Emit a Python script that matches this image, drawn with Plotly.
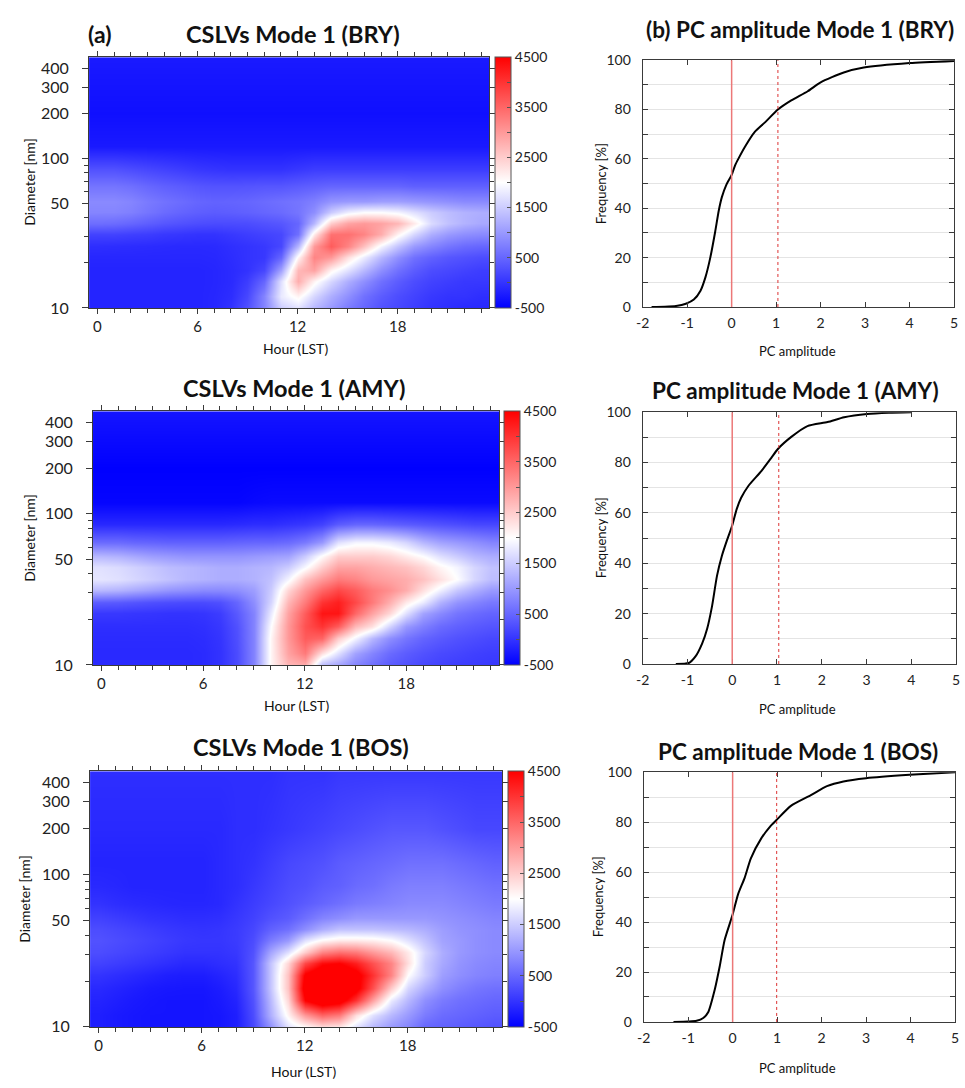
import plotly.graph_objects as go

W, H = 965, 1088
FONT = "Lato, Carlito, Calibri, 'Open Sans', sans-serif"

# ---------------- data ----------------
hours = list(range(24))
diameters = [10, 12, 15, 18, 22, 26, 31, 37, 44, 52, 65, 85, 120, 200, 480]

# rows = diameters (bottom -> top), columns = hours 0..23
z_bry = [
    [-150, -150, -150, -150, -150, -150, -150, -120, 0, 300, 800, 1500, 1700, 1300, 1000, 700, 500, 300, 200, 100, 0, -50, -100, -100],
    [-150, -150, -150, -150, -150, -150, -150, -120, -50, 200, 800, 1800, 2100, 1600, 1200, 900, 600, 400, 250, 150, 50, 0, 0, -50],
    [-150, -150, -150, -150, -150, -150, -150, -130, -80, 100, 500, 1700, 2800, 2100, 1600, 1200, 900, 600, 400, 250, 150, 100, 50, 50],
    [-150, -150, -150, -150, -150, -150, -150, -130, -80, 0, 200, 1100, 2700, 2900, 2100, 1700, 1300, 900, 600, 400, 250, 200, 150, 100],
    [-120, -120, -120, -120, -120, -120, -120, -110, -60, 0, 50, 500, 2100, 3200, 3000, 2300, 1800, 1300, 900, 600, 450, 350, 300, 250],
    [-50, -60, -70, -80, -90, -100, -100, -90, -40, 0, 50, 200, 1300, 3000, 3600, 3200, 2600, 1900, 1400, 1000, 800, 650, 550, 500],
    [150, 150, 120, 100, 50, 30, 0, 0, 50, 100, 150, 200, 600, 2200, 3400, 3400, 3200, 2800, 2100, 1600, 1200, 1000, 900, 850],
    [580, 560, 500, 430, 350, 300, 260, 240, 240, 250, 300, 350, 500, 1300, 2500, 2900, 3000, 2900, 2700, 2200, 1650, 1400, 1250, 1150],
    [800, 800, 750, 650, 550, 480, 430, 400, 420, 450, 500, 550, 650, 900, 1500, 1850, 2000, 2000, 1900, 1700, 1500, 1350, 1250, 1200],
    [850, 850, 800, 700, 620, 560, 500, 470, 480, 500, 550, 600, 650, 750, 950, 1000, 1000, 1050, 1050, 1000, 950, 900, 850, 850],
    [650, 650, 600, 520, 450, 400, 350, 320, 320, 330, 350, 350, 400, 450, 500, 500, 500, 500, 500, 450, 450, 450, 450, 450],
    [300, 300, 250, 200, 150, 100, 50, 20, 0, 0, 0, 0, 50, 100, 100, 100, 100, 100, 100, 100, 100, 100, 100, 100],
    [-250, -250, -250, -250, -250, -250, -250, -250, -250, -250, -250, -250, -250, -250, -250, -250, -250, -250, -250, -250, -250, -250, -250, -250],
    [-350, -350, -350, -350, -350, -350, -350, -350, -350, -350, -350, -350, -350, -350, -350, -350, -350, -350, -350, -350, -350, -350, -350, -350],
    [-250, -250, -250, -250, -250, -250, -250, -250, -250, -250, -250, -250, -250, -250, -250, -250, -250, -250, -250, -250, -250, -250, -250, -250],
]

z_amy = [
    [-100, -100, -100, -100, -100, -100, -80, 0, 250, 800, 2100, 2700, 2800, 1300, 1100, 800, 600, 400, 300, 200, 150, 100, 80, 50],
    [-100, -100, -100, -100, -100, -100, -80, 0, 250, 800, 2100, 2900, 3300, 2300, 1700, 1100, 800, 550, 400, 300, 220, 180, 130, 100],
    [-80, -80, -80, -80, -80, -80, -60, 20, 280, 800, 2100, 3000, 3600, 3500, 2500, 1900, 1300, 900, 650, 480, 380, 300, 250, 200],
    [-50, -50, -50, -50, -50, -50, -30, 50, 300, 800, 2000, 3000, 3700, 4000, 3600, 2700, 2300, 1600, 1000, 750, 550, 450, 380, 330],
    [50, 50, 30, 20, 0, 0, 20, 100, 380, 800, 1800, 2900, 3600, 4300, 4300, 3500, 2900, 2400, 1700, 1100, 850, 650, 550, 480],
    [400, 380, 330, 280, 250, 230, 230, 280, 500, 900, 1600, 2700, 3300, 4000, 4200, 3800, 3300, 2800, 2200, 1800, 1250, 950, 800, 680],
    [1300, 1250, 1150, 1050, 950, 900, 850, 850, 900, 1050, 1500, 2400, 3000, 3500, 3800, 3600, 3300, 3100, 2800, 2300, 1850, 1450, 1200, 1000],
    [1750, 1700, 1600, 1500, 1400, 1300, 1250, 1200, 1200, 1250, 1400, 1900, 2600, 3000, 3300, 3200, 3000, 2900, 2800, 2600, 2300, 2000, 1600, 1350],
    [1700, 1650, 1550, 1450, 1350, 1300, 1250, 1200, 1200, 1250, 1300, 1500, 1950, 2500, 2900, 2900, 2800, 2700, 2600, 2400, 2100, 1900, 1600, 1400],
    [1300, 1250, 1150, 1050, 1000, 950, 950, 950, 950, 1000, 1050, 1100, 1500, 2050, 2500, 2500, 2500, 2400, 2200, 2000, 1700, 1500, 1300, 1200],
    [550, 550, 500, 480, 450, 450, 450, 450, 480, 500, 500, 550, 700, 1000, 1700, 1900, 1900, 1800, 1600, 1300, 1100, 1000, 900, 800],
    [-100, -100, -100, -100, -100, -100, -100, -100, -80, -50, -50, 0, 50, 150, 400, 500, 500, 450, 400, 350, 300, 250, 200, 200],
    [-450, -450, -450, -450, -450, -450, -450, -450, -450, -420, -400, -400, -400, -400, -400, -400, -400, -400, -400, -400, -400, -400, -400, -400],
    [-500, -500, -500, -500, -500, -500, -500, -500, -500, -500, -500, -500, -500, -500, -500, -500, -500, -500, -500, -500, -500, -500, -500, -500],
    [-300, -300, -300, -300, -300, -300, -300, -300, -300, -300, -300, -300, -300, -300, -300, -300, -300, -300, -300, -300, -300, -300, -300, -300],
]

z_bos = [
    [-200, -250, -280, -300, -300, -300, -300, -280, -200, 200, 900, 1700, 2000, 2300, 2200, 1700, 1300, 1000, 800, 500, 450, 400, 350, 300],
    [-200, -250, -280, -300, -300, -300, -300, -280, -200, 250, 1200, 2100, 3000, 3500, 3300, 2300, 1700, 1300, 1000, 700, 550, 500, 450, 400],
    [-150, -200, -250, -280, -300, -300, -300, -250, -150, 300, 1300, 2400, 4500, 5000, 4800, 4000, 2900, 1800, 1300, 900, 700, 600, 550, 500],
    [-100, -150, -200, -250, -270, -280, -280, -220, -100, 350, 1400, 2600, 4800, 5200, 5200, 4700, 3700, 2500, 1600, 1200, 900, 750, 650, 600],
    [0, -50, -100, -150, -200, -220, -220, -150, -50, 350, 1400, 2600, 4600, 5000, 5000, 4700, 4000, 3200, 2000, 1500, 1050, 900, 800, 750],
    [150, 100, 50, 0, -50, -100, -100, -50, 0, 350, 1400, 2400, 3800, 4400, 4500, 4200, 3700, 3200, 2300, 1500, 1150, 950, 850, 800],
    [250, 200, 150, 100, 50, 0, 0, 0, 50, 300, 1100, 1700, 2500, 3200, 3400, 3300, 3000, 2700, 2200, 1600, 1200, 1000, 900, 850],
    [300, 250, 200, 150, 100, 50, 30, 30, 80, 250, 700, 1000, 1700, 2050, 2200, 2200, 2150, 2000, 1700, 1400, 1100, 1000, 900, 850],
    [250, 200, 150, 100, 50, 20, 0, 20, 80, 200, 450, 600, 900, 1200, 1400, 1400, 1400, 1350, 1300, 1200, 1050, 950, 900, 850],
    [150, 100, 50, 0, -20, -50, -50, -30, 50, 150, 300, 400, 600, 800, 900, 1000, 1000, 1000, 1000, 1000, 950, 900, 850, 800],
    [0, -50, -80, -100, -120, -130, -130, -100, 0, 100, 200, 300, 400, 500, 600, 700, 750, 800, 850, 850, 850, 800, 750, 700],
    [-100, -120, -150, -150, -150, -150, -150, -100, -50, 50, 150, 250, 300, 400, 450, 550, 600, 700, 750, 750, 750, 700, 650, 600],
    [-150, -150, -150, -150, -150, -150, -150, -100, -50, 0, 100, 200, 250, 300, 400, 450, 500, 550, 600, 600, 600, 550, 500, 450],
    [-100, -100, -100, -100, -100, -100, -100, -100, -50, -50, 0, 50, 100, 150, 200, 250, 300, 350, 350, 350, 300, 250, 200, 200],
    [-50, -50, -50, -50, -50, -50, -50, -50, -50, -50, -50, 0, 0, 0, 50, 50, 50, 50, 50, 50, 50, 50, 50, 50],
]

# cumulative distribution of PC amplitude (Mode 1)
pc_bry_x = [-1.8, -1.5, -1.25, -1.03, -0.85, -0.70, -0.59, -0.48, -0.37, -0.29, -0.22, -0.12, 0.0, 0.08, 0.15, 0.30, 0.52, 0.75, 1.04, 1.34, 1.71, 2.0, 2.52, 2.97, 4.0, 5.0]
pc_bry_y = [0, 0.1, 0.4, 1.3, 3, 6.6, 12, 20, 30.5, 39, 44.5, 49.5, 53.5, 57.5, 60, 64.9, 70.9, 74.8, 80, 83.7, 87.4, 91, 95, 97, 98.8, 99.7]
pc_amy_x = [-1.26, -0.97, -0.82, -0.67, -0.56, -0.45, -0.34, -0.23, -0.12, 0.0, 0.1, 0.2, 0.36, 0.65, 0.87, 1.02, 1.32, 1.68, 2.13, 2.5, 3.01, 3.5, 4.0]
pc_amy_y = [0, 0.4, 3, 8.2, 14, 23, 35, 43, 49, 55, 61.5, 66, 70.7, 76.6, 81.8, 85.4, 90.2, 94.5, 96.1, 98, 99.3, 99.8, 100]
pc_bos_x = [-1.33, -1.0, -0.81, -0.66, -0.55, -0.40, -0.29, -0.18, 0.0, 0.12, 0.27, 0.41, 0.64, 0.86, 1.01, 1.31, 1.75, 2.12, 2.49, 3.0, 3.98, 5.0]
pc_bos_y = [0, 0.2, 0.5, 1.6, 3.9, 13.1, 22.3, 32.8, 43, 51, 57.7, 65.5, 73.4, 78.6, 81.3, 86.5, 90.7, 94.4, 96.3, 97.6, 98.95, 100]

sites = ["BRY", "AMY", "BOS"]
solid_line_x = [0, 0, 0]
dotted_line_x = [1.04, 1.04, 0.99]

hour_ticks = [0, 6, 12, 18]
diam_ticks = [10, 50, 100, 200, 300, 400]
diam_minor = [20, 30, 40, 60, 70, 80, 90]
cb_vals = [-500, 0, 500, 1000, 1500, 2000, 2500, 3000, 3500, 4000, 4500]
cb_text = ["-500", "", "500", "", "1500", "", "2500", "", "3500", "", "4500"]
pc_ticks = [-2, -1, 0, 1, 2, 3, 4, 5]
pc_ticktext = ["-2", "-1", "0", "1", "2", "3", "4", "5"]
freq_ticks = [0, 20, 40, 60, 80, 100]

# ---------------- layout geometry (pixels) ----------------
left_panels = [  # x0, x1, top, bottom, colorbar x
    (83, 488, 49, 304, 494),
    (87, 498, 409, 667, 503),
    (84, 501, 775, 1035, 507),
]
right_panels = [
    (643, 958, 52, 303),
    (643, 960, 410, 666),
    (644, 959, 776, 1030),
]

def dx(a, b):
    return [a / W, b / W]

def dy(t, b):
    return [1 - b / H, 1 - t / H]

colorscale = [[0.0, "rgb(0,0,255)"], [0.5, "rgb(255,255,255)"], [1.0, "rgb(255,0,0)"]]
AX = "#3a3a3a"
TXT = "#222222"

fig = go.Figure()
zs = [z_bry, z_amy, z_bos]
pcs = [(pc_bry_x, pc_bry_y), (pc_amy_x, pc_amy_y), (pc_bos_x, pc_bos_y)]
layout = {}
shapes = []
annotations = []

for i in range(3):
    lx0, lx1, lt, lb, cbx = left_panels[i]
    rx0, rx1, rt, rb = right_panels[i]
    hx = "x" if i == 0 else f"x{2 * i + 1}"
    hy = "y" if i == 0 else f"y{2 * i + 1}"
    px_ = f"x{2 * i + 2}"
    py_ = f"y{2 * i + 2}"
    hxk = "xaxis" if i == 0 else f"xaxis{2 * i + 1}"
    hyk = "yaxis" if i == 0 else f"yaxis{2 * i + 1}"
    pxk = f"xaxis{2 * i + 2}"
    pyk = f"yaxis{2 * i + 2}"

    fig.add_trace(go.Heatmap(
        x=hours, y=diameters, z=zs[i], xaxis=hx, yaxis=hy,
        zmin=-500, zmax=4500, colorscale=colorscale, zsmooth="best",
        showscale=True,
        colorbar=dict(
            x=cbx / W, xanchor="left", y=1 - lb / H, yanchor="bottom",
            len=(lb - lt) / H, lenmode="fraction", thickness=16,
            thicknessmode="pixels", xpad=0, ypad=0,
            outlinewidth=1, outlinecolor="#555555",
            tickmode="array", tickvals=cb_vals, ticktext=cb_text,
            ticks="inside", ticklen=4, tickcolor="#555555",
            tickfont=dict(family=FONT, size=14, color=TXT),
        ),
        hoverinfo="skip",
    ))

    layout[hxk] = dict(
        domain=dx(lx0, lx1), anchor=hy, range=[-0.5, 23.5],
        tickmode="array", tickvals=hour_ticks, ticks="outside", ticklen=5,
        tickcolor=AX, showline=True, linecolor=AX, linewidth=1, mirror="ticks",
        showgrid=False, zeroline=False, ticklabelstandoff=0,
        tickfont=dict(family=FONT, size=15, color=TXT),
        minor=dict(tickmode="linear", tick0=0, dtick=1, ticks="outside",
                   ticklen=4, tickcolor=AX, showgrid=False),
    )
    layout[hyk] = dict(
        domain=dy(lt, lb), anchor=hx, type="log", range=[1, 2.678],
        tickmode="array", tickvals=diam_ticks, ticktext=[str(v) for v in diam_ticks],
        ticks="outside", ticklen=6, tickcolor=AX, showline=True, linecolor=AX,
        linewidth=1, mirror="ticks", showgrid=False, zeroline=False,
        ticklabelstandoff=10,
        tickfont=dict(family=FONT, size=16, color=TXT),
        minor=dict(tickmode="array", tickvals=diam_minor, ticks="outside",
                   ticklen=4, tickcolor=AX, showgrid=False),
    )

    cx, cy = pcs[i]
    fig.add_trace(go.Scatter(
        x=cx, y=cy, xaxis=px_, yaxis=py_, mode="lines",
        line=dict(color="black", width=2, shape="spline", smoothing=0.6),
        showlegend=False, hoverinfo="skip",
    ))
    layout[pxk] = dict(
        domain=dx(rx0, rx1), anchor=py_, range=[-2, 5],
        tickmode="array", tickvals=pc_ticks, ticktext=pc_ticktext,
        ticks="inside", ticklen=5,
        tickcolor=AX, showline=True, linecolor=AX, linewidth=1, mirror="ticks",
        showgrid=False, zeroline=False, ticklabelstandoff=3,
        tickfont=dict(family=FONT, size=14, color=TXT),
    )
    layout[pyk] = dict(
        domain=dy(rt, rb), anchor=px_, range=[0, 100],
        tickmode="array", tickvals=freq_ticks, ticks="inside", ticklen=5,
        tickcolor=AX, showline=True, linecolor=AX, linewidth=1, mirror="ticks",
        showgrid=True, gridcolor="#e4e4e4", gridwidth=1, zeroline=False,
        ticklabelstandoff=8,
        tickfont=dict(family=FONT, size=14, color=TXT),
        minor=dict(tickmode="linear", tick0=0, dtick=10, ticks="inside",
                   ticklen=5, tickcolor=AX, showgrid=True, gridcolor="#e4e4e4"),
    )

    shapes.append(dict(type="line", xref=px_, yref=f"{py_} domain",
                       x0=solid_line_x[i], x1=solid_line_x[i], y0=0, y1=1,
                       line=dict(color="rgb(236,120,120)", width=1.5)))
    shapes.append(dict(type="line", xref=px_, yref=f"{py_} domain",
                       x0=dotted_line_x[i], x1=dotted_line_x[i], y0=0, y1=1,
                       line=dict(color="rgb(220,50,50)", width=1, dash="dot")))

def ann(text, xpx, ypx, size, bold=False, angle=0):
    annotations.append(dict(
        text=text, x=xpx / W, y=1 - ypx / H, xref="paper", yref="paper",
        xanchor="center", yanchor="middle", showarrow=False, textangle=angle,
        font=dict(family=FONT, size=size, color="#111111",
                  weight="bold" if bold else "normal"),
    ))

ann("(a)", 94, 25, 23, True)
ann("CSLVs Mode 1 (BRY)", 289, 25, 23.5, True)
ann("(b) PC amplitude Mode 1 (BRY)", 802, 21, 22.5, True)
ann("CSLVs Mode 1 (AMY)", 290, 385, 23.5, True)
ann("PC amplitude Mode 1 (AMY)", 798, 388, 22.5, True)
ann("CSLVs Mode 1 (BOS)", 297, 750, 23.5, True)
ann("PC amplitude Mode 1 (BOS)", 800, 755, 22.5, True)

ann("Diameter [nm]", 22, 176, 14, angle=-90)
ann("Diameter [nm]", 22, 538, 14, angle=-90)
ann("Diameter [nm]", 17, 905, 14, angle=-90)
ann("Hour (LST)", 292, 345, 14)
ann("Hour (LST)", 293, 708, 14)
ann("Hour (LST)", 300, 1080, 14)
ann("Frequency [%]", 601, 178, 13, angle=-90)
ann("Frequency [%]", 601, 538, 13, angle=-90)
ann("Frequency [%]", 598, 903, 13, angle=-90)
ann("PC amplitude", 800, 348, 13)
ann("PC amplitude", 800, 712, 13)
ann("PC amplitude", 800, 1077, 13)

fig.update_layout(
    width=W, height=H, margin=dict(l=0, r=0, t=0, b=0),
    paper_bgcolor="white", plot_bgcolor="white",
    showlegend=False, shapes=shapes, annotations=annotations,
    font=dict(family=FONT, color=TXT),
    **layout,
)

fig.write_html("out.html")
